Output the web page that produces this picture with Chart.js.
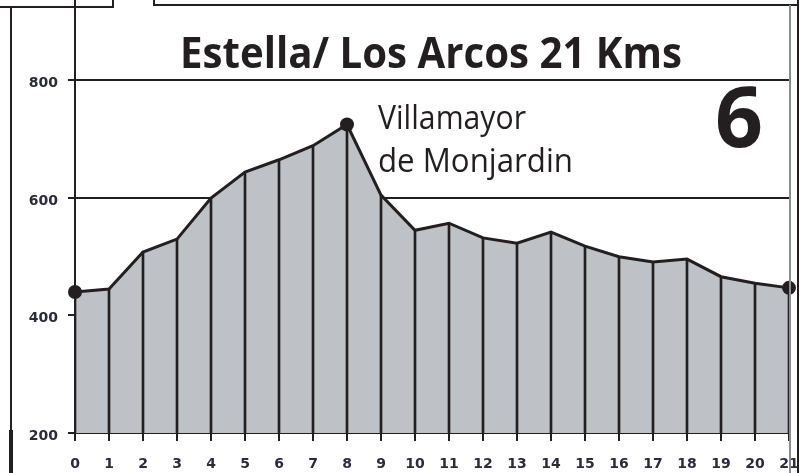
<!DOCTYPE html>
<html>
<head>
<meta charset="utf-8">
<script src="https://cdn.jsdelivr.net/npm/chart.js@4/dist/chart.umd.min.js"></script>
<style>
  html, body { margin: 0; padding: 0; background: #fff; }
  #wrap { width: 807px; height: 473px; position: relative; }
</style>
</head>
<body>
<div id="wrap"><canvas id="perfil"></canvas></div>
<script>
const KMS     = ['0','1','2','3','4','5','6','7','8','9','10','11','12','13','14','15','16','17','18','19','20','21'];
const ALTITUD = [440, 445, 508, 530, 600, 644, 665, 689, 725, 605, 545, 557, 532, 523, 542, 518, 500, 491, 496, 466, 455, 447];
const PUNTOS  = [0, 8, 21];          // km con punto negro
const Y_TICKS = [200, 400, 600, 800];

const TITULO  = 'Estella/ Los Arcos 21 Kms';
const ETAPA   = '6';
const LUGAR   = ['Villamayor', 'de Monjardin'];

const OSCURO = '#231f20';
const RELLENO = '#bec2c6';
const FUENTE_EJES = { family: 'DejaVu Sans', size: 14, weight: 'bold' };

// marco, titulo y rotulos
const decoracion = {
  id: 'decoracion',
  afterDraw(chart) {
    const c = chart.ctx;
    const a = chart.chartArea;
    c.save();
    c.strokeStyle = OSCURO;
    c.lineWidth = 2;
    c.beginPath();
    // eje vertical hasta arriba
    c.moveTo(a.left, 0); c.lineTo(a.left, a.top + 1);
    // cajetin izquierdo
    c.moveTo(0, 7); c.lineTo(113, 7); c.lineTo(113, 0);
    // cajetin superior
    c.moveTo(154, 0); c.lineTo(154, 5); c.lineTo(798, 5);
    // borde izquierdo
    c.moveTo(11, 7); c.lineTo(11, 473);
    // borde derecho
    c.moveTo(798, 0); c.lineTo(798, 473);
    c.stroke();
    c.lineWidth = 4;
    c.beginPath(); c.moveTo(11, 430); c.lineTo(11, 473); c.stroke();
    c.strokeStyle = '#8a8d92';
    c.lineWidth = 2;
    c.beginPath(); c.moveTo(790, 5); c.lineTo(790, 473); c.stroke();

    c.fillStyle = OSCURO;
    c.textBaseline = 'alphabetic';
    c.textAlign = 'center';
    c.font = 'bold 43px "Open Sans"';
    c.fillText(TITULO, 431, 68, 502);
    c.font = 'bold 84px "Open Sans"';
    c.fillText(ETAPA, 739, 147, 50);
    c.textAlign = 'left';
    c.font = '500 32px "Open Sans"';
    c.fillText(LUGAR[0], 378, 129, 148);
    c.fillText(LUGAR[1], 378, 172, 195);
    c.restore();
  }
};

new Chart(document.getElementById('perfil'), {
  type: 'line',
  data: {
    labels: KMS,
    datasets: [
      {
        label: 'perfil',
        data: ALTITUD,
        borderColor: OSCURO,
        borderWidth: 3,
        backgroundColor: RELLENO,
        fill: 'start',
        tension: 0,
        pointRadius: ALTITUD.map((v, i) => PUNTOS.includes(i) ? 7 : 0),
        pointBackgroundColor: OSCURO,
        pointBorderColor: OSCURO,
        pointBorderWidth: 0,
        order: 0
      },
      {
        type: 'bar',
        label: 'kms',
        data: ALTITUD,
        backgroundColor: OSCURO,
        barThickness: 2,
        order: 1
      }
    ]
  },
  options: {
    responsive: true,
    maintainAspectRatio: false,
    animation: false,
    layout: { padding: { top: 0, right: 18, bottom: 0, left: 0 } },
    plugins: {
      legend: { display: false },
      tooltip: { enabled: false },
      filler: { drawTime: 'beforeDatasetsDraw' }
    },
    scales: {
      x: {
        type: 'category',
        offset: false,
        grid: { offset: false, drawOnChartArea: false, drawTicks: true, tickLength: 8, color: OSCURO, lineWidth: 2 },
        border: { display: true, color: OSCURO, width: 2 },
        ticks: { color: '#2b2b3a', font: FUENTE_EJES, padding: 15, maxRotation: 0, autoSkip: false },
        afterFit: s => { s.height = 40; s.paddingLeft = 0; s.paddingRight = 0; }
      },
      y: {
        min: 200,
        max: 925,
        afterBuildTicks: s => { s.ticks = Y_TICKS.map(v => ({ value: v })); },
        grid: { color: OSCURO, lineWidth: 2, tickLength: 7 },
        border: { display: true, color: OSCURO, width: 2 },
        ticks: { color: '#2b2b3a', font: FUENTE_EJES, padding: 10, labelOffset: 3 },
        afterFit: s => { s.width = 75; s.paddingTop = 0; s.paddingBottom = 0; }
      }
    }
  },
  plugins: [decoracion]
});
</script>
</body>
</html>
